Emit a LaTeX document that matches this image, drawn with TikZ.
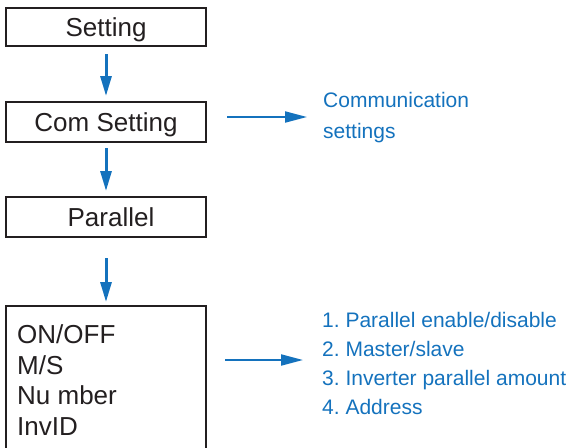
\documentclass[tikz,border=0pt]{standalone}
\usepackage{fontspec}
\setmainfont{Liberation Sans}
\usetikzlibrary{arrows.meta}
\frenchspacing
\definecolor{flowblue}{RGB}{20,114,189}
\definecolor{boxblack}{RGB}{35,31,32}
\tikzset{
  menubox/.style={draw=boxblack, line width=2pt, minimum width=200pt, inner sep=0pt,
    text depth=0pt, font=\fontsize{26}{30}\selectfont, text=boxblack},
  varrow/.style={draw=flowblue, line width=3pt, -{Triangle[length=20pt,width=11pt]}},
  harrow/.style={draw=flowblue, line width=2pt, -{Triangle[length=22pt,width=11pt]}},
  bluetext/.style={inner sep=0pt, anchor=west, align=left, text=flowblue}
}
\begin{document}
\begin{tikzpicture}[x=1pt,y=-1pt]
\useasboundingbox (0,0) rectangle (572,447);
\node[menubox, minimum height=38pt] (s1) at (106,27) {Setting};
\node[menubox, minimum height=40pt] (s2) at (106,122) {Com Setting};
\node[menubox, minimum height=40pt] (s3) at (106,217) {\hspace*{10pt}Parallel};
% open box at bottom
\coordinate (b4) at (106,306);
\draw[draw=boxblack, line width=2pt] (6,448) -- (6,306) -- (206,306) -- (206,448);
\node[inner sep=0pt, anchor=west, align=left, text=boxblack,
  font=\fontsize{26}{30.7}\selectfont] (opts) at (17,380) {ON/OFF\\M/S\\Nu mber\\InvID};
\draw[varrow, shorten <=7pt, shorten >=5pt] (s1) -- (s2);
\draw[varrow, shorten <=5pt, shorten >=5pt] (s2) -- (s3);
\draw[varrow, shorten <=20pt, shorten >=4pt] (s3.south) -- (b4);
\node[bluetext, font=\fontsize{21}{31}\selectfont] (com) at (323,118) {Communication\\settings};
\coordinate (c1) at (227,117);
\draw[harrow, shorten >=16pt] (c1) -- (com.west |- c1);
\node[bluetext, font=\fontsize{21}{29}\selectfont] (list) at (322,363) {1. Parallel enable/disable\\2. Master/slave\\3. Inverter parallel amount\\4. Address};
\coordinate (c2) at (225,360);
\draw[harrow, shorten >=19pt] (c2) -- (list.west |- c2);
\end{tikzpicture}
\end{document}
